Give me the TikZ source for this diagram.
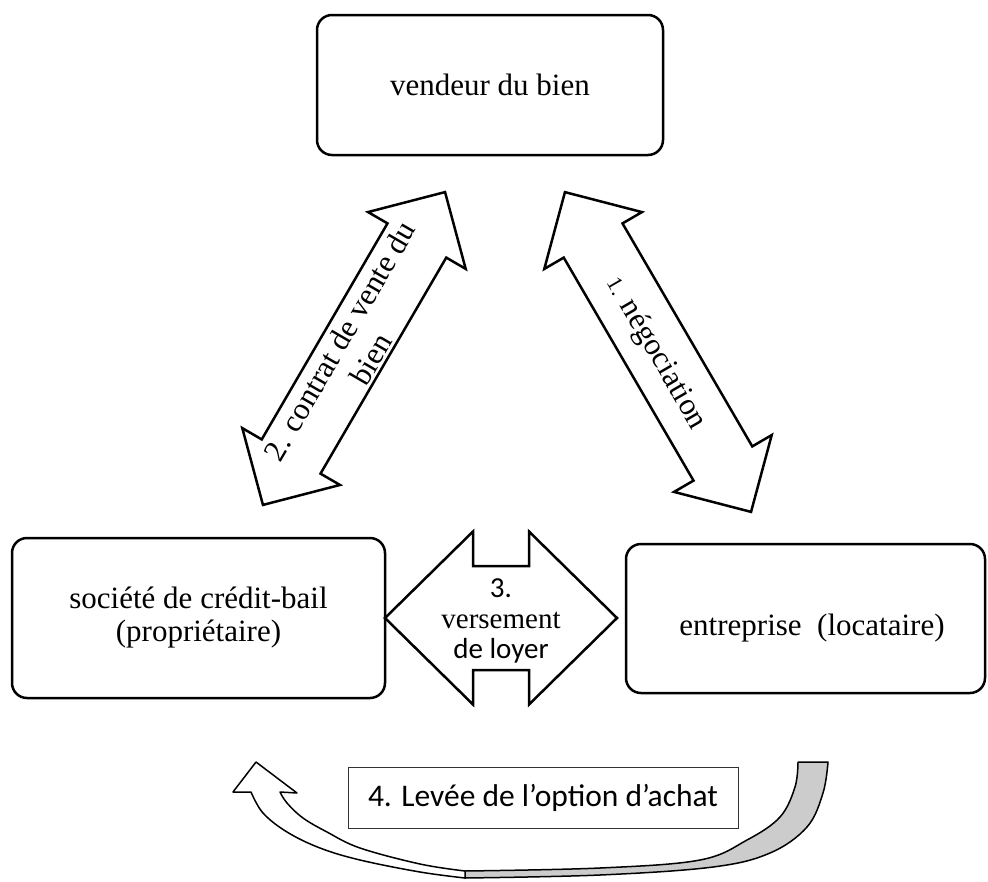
\documentclass[tikz,border=0pt]{standalone}
\usepackage{fontspec}
\setmainfont{Liberation Serif}
\newfontfamily\carlito{Carlito}
\newcommand\dblarrow[7]{%
  \draw[blockarrow, shift={(#1,#2)}, rotate=#3]
    (-#4/2,0) -- (-#4/2+#5,#6/2) -- (-#4/2+#5,#7/2) -- (#4/2-#5,#7/2)
    -- (#4/2-#5,#6/2) -- (#4/2,0) -- (#4/2-#5,-#6/2) -- (#4/2-#5,-#7/2)
    -- (-#4/2+#5,-#7/2) -- (-#4/2+#5,-#6/2) -- cycle;}
\begin{document}
\begin{tikzpicture}[x=1pt,y=-1pt,
  box/.style={draw, line width=2.5pt, rounded corners=15pt, fill=white,
    font=\fontsize{31}{33}\selectfont, align=center, inner sep=0pt},
  blockarrow/.style={draw, line width=2.5pt, fill=white, line join=miter},
  lbl/.style={font=\fontsize{31}{33}\selectfont, align=center, inner sep=0pt},
  curvearrow/.style={draw, line width=1.5pt, line join=round}]
\fill[white] (0,0) rectangle (988,881);
\useasboundingbox (0,0) rectangle (988,881);

% boxes
\node[box, minimum width=346pt, minimum height=140pt] (vendeur) at (490,85) {vendeur du bien};
\node[box, minimum width=373pt, minimum height=160pt] (societe) at (198.5,618) {soci\'et\'e de cr\'edit-bail\\(propri\'etaire)};
\node[box, minimum width=359pt, minimum height=149pt] (entreprise) at (805.5,618.5) {};
\node[lbl, anchor=base] (entxt) at (812,635) {entreprise\ \ (locataire)};

% block arrows
\dblarrow{354}{348.5}{59.8}{362}{56}{113}{68}
\dblarrow{658}{352}{-59.8}{370}{56}{113}{68}
\dblarrow{501}{618}{0}{232}{88}{173}{104}

\node[lbl, rotate=59.8, font=\fontsize{31}{36}\selectfont] (t2) at (355,350) {2. contrat de vente du\\bien};
\node[lbl, rotate=-59.8] (t1) at (656,353) {{\fontsize{22}{22}\selectfont 1.} n\'egociation};
\node[lbl, font=\fontsize{29}{30.5}\selectfont] (t3) at (501,621) {{\carlito 3.}\\versement\\{\carlito de loyer}};

% curved arrow (option d'achat)
\draw[curvearrow, fill=black!20] (465,878)
  -- plot[smooth, tension=0.6] coordinates {(465,878) (600,875) (713,867) (770,853) (807,827) (823,793) (828,762)}
  -- (798,762)
  -- plot[smooth, tension=0.6] coordinates {(798,762) (795,787) (780,817) (747,840) (700,860) (600,868) (465,871)}
  -- cycle;
\draw[curvearrow, fill=white] (251,792) -- (233,792) -- (256,762) -- (297,793) -- (280,792)
  -- plot[smooth, tension=0.6] coordinates {(280,792) (287,803) (303,818) (327,832) (360,848) (420,864) (465,871)}
  -- (465,878)
  -- plot[smooth, tension=0.6] coordinates {(465,878) (420,872) (360,860) (320,848) (287,832) (263,813) (251,792)}
  -- cycle;

\node[draw=black!80, line width=1pt, fill=white, minimum width=390pt, minimum height=61pt,
  inner sep=0pt, font=\carlito\fontsize{31.5}{33}\selectfont] (option) at (543,797.5) {4. Lev\'ee de l’option d’achat};
\end{tikzpicture}
\end{document}
